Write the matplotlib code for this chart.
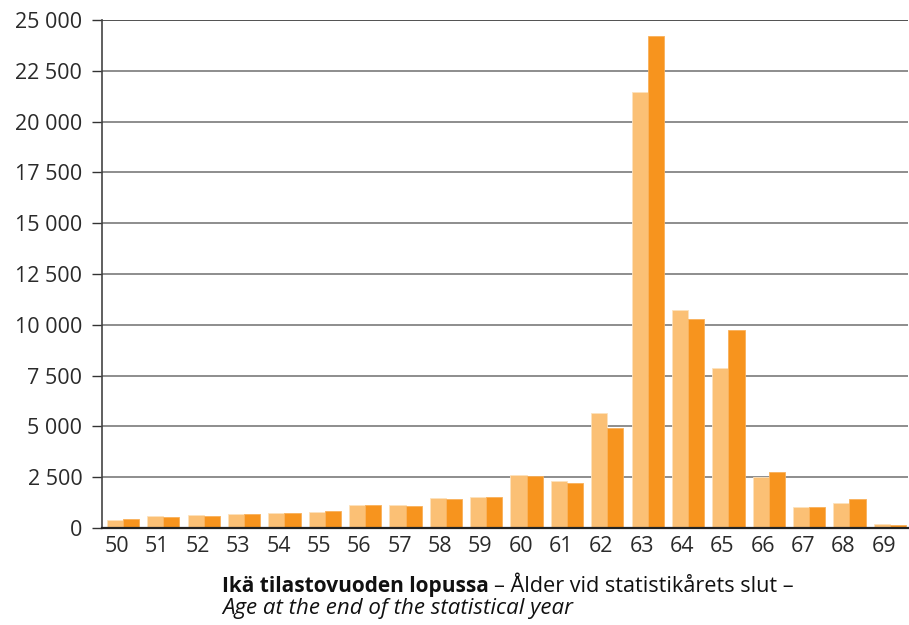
import matplotlib.pyplot as plt
import matplotlib.transforms as mtransforms
import numpy as np

ages = [str(a) for a in range(50, 70)]
# two series (light = earlier year, dark = later year)
light = [417, 583, 633, 683, 733, 783, 1133, 1133, 1500, 1550,
         2617, 2300, 5667, 21460, 10730, 7870, 2500, 1017, 1233, 183]
dark = [433, 550, 600, 683, 733, 833, 1133, 1083, 1433, 1517,
        2567, 2233, 4933, 24230, 10285, 9744, 2733, 1050, 1433, 150]
yticks = [0, 2500, 5000, 7500, 10000, 12500, 15000, 17500, 20000, 22500, 25000]

plt.rcParams['font.family'] = ['Open Sans', 'DejaVu Sans']

fig = plt.figure(figsize=(9.09, 6.25), dpi=100)
ax = fig.add_axes([102/909, 1 - 528/625, 806/909, 508/625])

x = np.arange(len(ages))
w = 0.4
ax.bar(x - w/2, light, width=w, color='#fbc075', edgecolor='#fde2bd', linewidth=0.6, zorder=3)
ax.bar(x + w/2, dark, width=w, color='#f7941e', edgecolor='#f9b15a', linewidth=0.6, zorder=3)

ax.set_xlim(-0.52, len(ages) - 0.55)
ax.set_ylim(0, 25000)
ax.set_yticks(yticks)
ax.set_yticklabels([f'{v:,}'.replace(',', ' ') for v in yticks], fontsize=15.5, color='#2a2a2a')
ax.set_xticks(x)
ax.set_xticklabels(ages, fontsize=15.5, color='#2a2a2a')
ax.tick_params(axis='x', length=0, pad=6)
ax.tick_params(axis='y', length=7.2, width=1, color='#333333', pad=7)

# labels sit a little left of the bar pairs
shift = mtransforms.ScaledTranslation(-6/100, 0, fig.dpi_scale_trans)
for lab in ax.get_xticklabels():
    lab.set_transform(lab.get_transform() + shift)

for v in yticks[1:]:
    ax.axhline(v, color='#333333' if v == 25000 else '#7a7a7a', linewidth=1.2, zorder=1)

for s in ['top', 'right']:
    ax.spines[s].set_visible(False)
ax.spines['left'].set_color('#444444')
ax.spines['left'].set_linewidth(1.2)
ax.spines['bottom'].set_color('#222222')
ax.spines['bottom'].set_linewidth(1.6)
ax.spines['bottom'].set_zorder(4)

# x axis title in mixed styles
fig.canvas.draw()
r = fig.canvas.get_renderer()
x0 = 222/909
y1 = 1 - 592/625
t1 = fig.text(x0, y1, 'Ikä tilastovuoden lopussa', fontsize=15, fontweight='bold',
              color='#111111', va='baseline')
bb = t1.get_window_extent(renderer=r)
fig.text(bb.x1/909 + 0.006, y1, '– Ålder vid statistikårets slut –', fontsize=15.6,
         color='#111111', va='baseline')
fig.text(x0, 1 - 614/625, 'Age at the end of the statistical year', fontsize=16,
         style='italic', color='#111111', va='baseline')

plt.savefig('out.png', dpi=100)
